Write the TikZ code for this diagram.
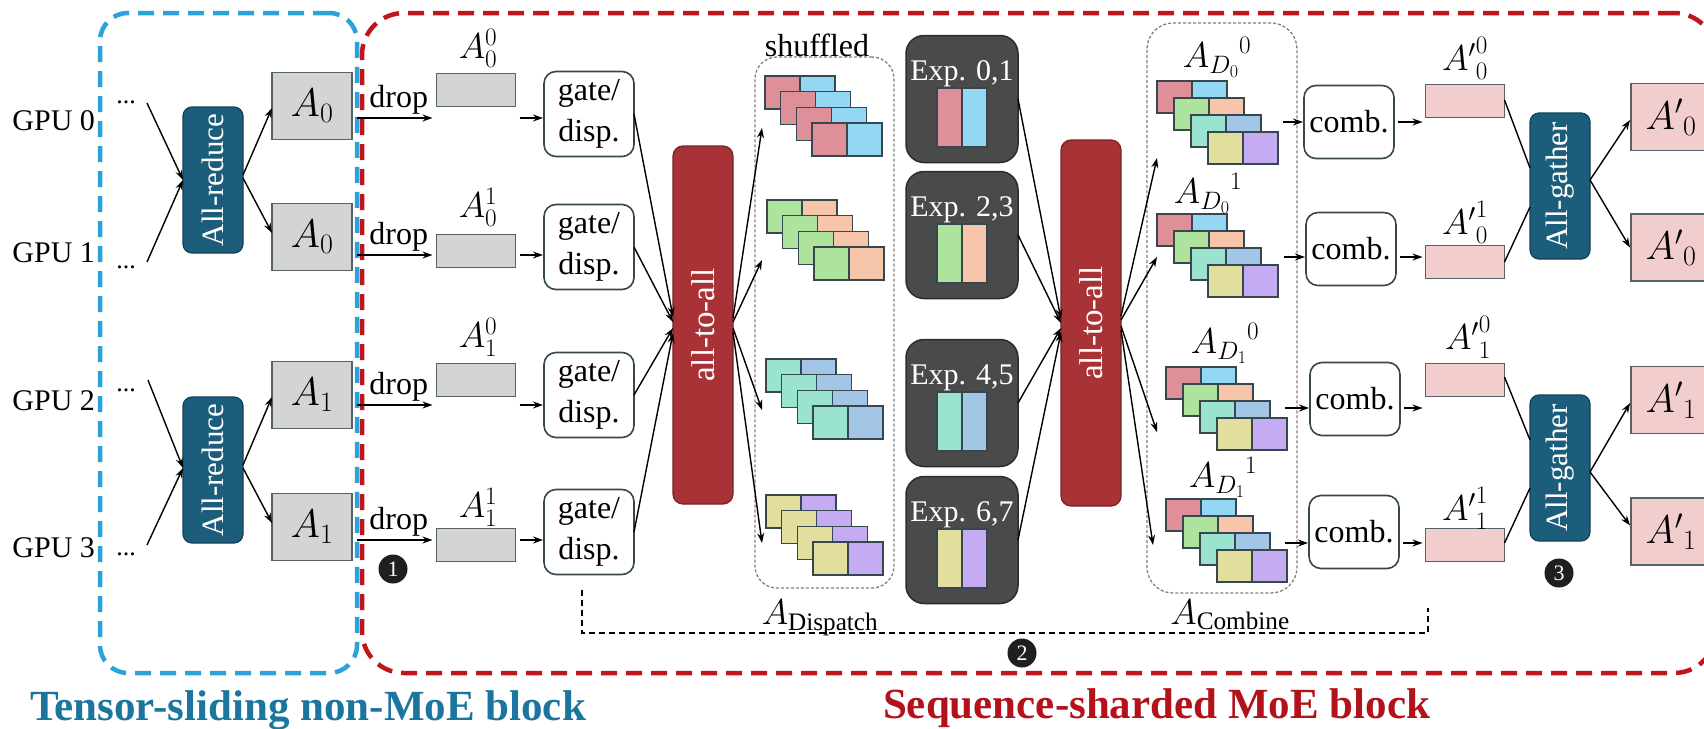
\RequirePackage{fix-cm}
\documentclass[tikz,border=0pt]{standalone}
\usepackage{fontspec}
\usepackage{graphicx}
\setmainfont{Liberation Serif}
\usetikzlibrary{calc,arrows.meta}

\definecolor{tsblue}{HTML}{2AA3DA}
\definecolor{smred}{HTML}{C0161B}
\definecolor{titleblue}{HTML}{1B769F}
\definecolor{titlered}{HTML}{B3121A}
\definecolor{collteal}{HTML}{1D5D7C}
\definecolor{a2ared}{HTML}{A83236}
\definecolor{expgray}{HTML}{4A4A4A}
\definecolor{edge}{HTML}{37474F}
\definecolor{actgray}{HTML}{D4D4D4}
\definecolor{outpink}{HTML}{F1CDCE}
\definecolor{cpink}{HTML}{DF8F98}
\definecolor{cblue}{HTML}{93D7F2}
\definecolor{cgreen}{HTML}{AEE39E}
\definecolor{cpeach}{HTML}{F7C5AA}
\definecolor{cmint}{HTML}{9AE3CF}
\definecolor{csky}{HTML}{A4C6E6}
\definecolor{cyellow}{HTML}{E2DF9E}
\definecolor{clav}{HTML}{C4ABF2}

\tikzset{
  every node/.style={font=\fontsize{32}{40}\selectfont, inner sep=0pt, outer sep=0pt},
  arr/.style={-{Stealth[length=10pt,width=7pt]}, line width=1.4pt, black},
  link/.style={line width=1.4pt, black},
  region/.style={line width=4.5pt, dash pattern=on 16pt off 9pt},
  holder/.style={draw=gray, dash pattern=on 3pt off 2pt, line width=1.3pt, rounded corners=22pt},
  actbox/.style={draw=edge!85, fill=actgray, line width=1.6pt, minimum width=80pt, minimum height=67pt,
                 font=\fontsize{40}{40}\selectfont},
  slimbox/.style={draw=edge!85, fill=actgray, line width=1.6pt, minimum width=79pt, minimum height=33pt},
  opbox/.style={draw=edge, fill=white, rounded corners=12pt, line width=1.6pt, minimum width=90pt, align=center},
  coll/.style={fill=collteal, draw=collteal!70!black, rounded corners=9pt, line width=1.2pt,
               minimum width=60pt, minimum height=146pt, text=white, font=\fontsize{31}{31}\selectfont},
  a2a/.style={fill=a2ared, draw=a2ared!70!black, rounded corners=10pt, line width=1.2pt,
              minimum width=60pt, text=white, font=\fontsize{33}{33}\selectfont},
  expbox/.style={fill=expgray, draw=expgray!60!black, rounded corners=18pt, line width=1.5pt,
                 minimum width=112pt, minimum height=127pt},
  exptext/.style={text=white, font=\fontsize{30}{30}\selectfont},
  cellbox/.style={draw=edge, line width=1.3pt},
  num/.style={circle, fill=black!88, text=white, minimum size=29pt, font=\fontsize{22}{22}\selectfont},
  gpu/.style={anchor=base east, font=\fontsize{30}{30}\selectfont},
  dots/.style={anchor=base, font=\fontsize{26}{26}\selectfont},
  title/.style={anchor=base west, font=\fontsize{43}{43}\selectfont\bfseries},
  mlabel/.style={font=\fontsize{36}{36}\selectfont},
}

% four shuffled token groups of one colour pair, stacked diagonally
\newcommand\dispstack[4]{%
  \foreach \k in {0,...,3}{%
    \path[cellbox,fill=#3] (#1+15.67*\k, #2+15.67*\k) rectangle ++(35,33);
    \path[cellbox,fill=#4] (#1+15.67*\k+35, #2+15.67*\k) rectangle ++(35,33);
  }}
% combined outputs: one layer per expert pair
\newcommand\combstack[2]{%
  \foreach \k/\ca/\cb in {0/cpink/cblue,1/cgreen/cpeach,2/cmint/csky,3/cyellow/clav}{%
    \path[cellbox,fill=\ca] (#1+17*\k, #2+17*\k) rectangle ++(35,32);
    \path[cellbox,fill=\cb] (#1+17*\k+35, #2+17*\k) rectangle ++(35,32);
  }}

\begin{document}
\begin{tikzpicture}[x=1pt,y=-1pt]
\clip (0,0) rectangle (1704,728);
\fill[white] (0,0) rectangle (1704,728);

% ---------- block frames ----------
\node[region, draw=tsblue, rounded corners=28pt, minimum width=257pt, minimum height=660pt] (tsb) at (228.5,343) {};
\node[region, draw=smred, rounded corners=42pt, minimum width=1354pt, minimum height=660pt] (smb) at (1039,343) {};
\node[title, text=titleblue] (t1) at (30,720) {Tensor-sliding non-MoE block};
\node[title, text=titlered] (t2) at (883,718) {Sequence-sharded MoE block};

% ---------- GPU rows ----------
\node[gpu] (gpu0) at (95,130) {GPU 0};
\node[gpu] (gpu1) at (95,262) {GPU 1};
\node[gpu] (gpu2) at (95,410) {GPU 2};
\node[gpu] (gpu3) at (95,557) {GPU 3};
\node[dots] (dt0) at (126,103) {...};
\node[dots] (dt1) at (126,268) {...};
\node[dots] (dt2) at (126,391) {...};
\node[dots] (dt3) at (126,555) {...};
\coordinate (in0) at (147,103);
\coordinate (in1) at (147,262);
\coordinate (in2) at (148,380);
\coordinate (in3) at (147,545);

% ---------- tensor-sliding part ----------
\node[coll] (ar0) at (213,180) {\rotatebox{90}{All-reduce}};
\node[coll] (ar1) at (213,470) {\rotatebox{90}{All-reduce}};
\node[actbox] (a0) at (312,106) {$A_0$};
\node[actbox] (a1) at (312,237) {$A_0$};
\node[actbox] (a2) at (312,395) {$A_1$};
\node[actbox] (a3) at (312,527) {$A_1$};

\draw[arr] (in0) -- (ar0.west);
\draw[arr] (in1) -- (ar0.west);
\draw[arr] (in2) -- ($(ar1.west)+(0,-2)$);
\draw[arr] (in3) -- ($(ar1.west)+(0,-2)$);
\draw[arr] ($(ar0.east)+(0,-5)$) -- ($(a0.west)+(0,2)$);
\draw[arr] ($(ar0.east)+(0,-2)$) -- ($(a1.west)+(0,-4)$);
\draw[arr] ($(ar1.east)+(0,-5)$) -- ($(a2.west)+(0,2)$);
\draw[arr] ($(ar1.east)+(0,-2)$) -- ($(a3.west)+(0,-4)$);

% rows of the dropped-token arrows
\coordinate (r0) at (0,118);
\coordinate (r1) at (0,255);
\coordinate (r2) at (0,405);
\coordinate (r3) at (0,540);

% ---------- dropped slices ----------
\node[slimbox] (s0) at (476,90) {};
\node[slimbox] (s1) at (476,251) {};
\node[slimbox] (s2) at (476,380) {};
\node[slimbox] (s3) at (476,545) {};
\node[mlabel] (ls0) at (478,48) {$A_0^0$};
\node[mlabel] (ls1) at (478,207) {$A_0^1$};
\node[mlabel] (ls2) at (478,337) {$A_1^0$};
\node[mlabel] (ls3) at (478,507) {$A_1^1$};

\foreach \i in {0,...,3}{
  \draw[arr] ($(a\i.east |- r\i)+(5,0)$) -- node[anchor=base, yshift=11pt, xshift=4pt] (dl\i) {drop} ($(s\i.west |- r\i)+(-4,0)$);
}

% ---------- gate / dispatch ----------
\node[opbox, minimum height=85pt, font=\fontsize{32}{41}\selectfont] (g0) at (589,114) {gate/\\disp.};
\node[opbox, minimum height=85pt, font=\fontsize{32}{41}\selectfont] (g1) at (589,247) {gate/\\disp.};
\node[opbox, minimum height=85pt, font=\fontsize{32}{41}\selectfont] (g2) at (589,395) {gate/\\disp.};
\node[opbox, minimum height=85pt, font=\fontsize{32}{41}\selectfont] (g3) at (589,532) {gate/\\disp.};
\foreach \i in {0,...,3}{
  \draw[arr] ($(s\i.east |- r\i)+(4,0)$) -- ($(g\i.west |- r\i)+(-1,0)$);
}

% ---------- first all-to-all ----------
\node[a2a, minimum height=358pt] (x0) at (703,325) {\rotatebox{90}{all-to-all}};
\draw[arr] (g0.east) -- ($(x0.west)+(0,-8)$);
\draw[arr] (g1.east) -- ($(x0.west)+(0,-3)$);
\draw[arr] (g2.east) -- ($(x0.west)+(0,3)$);
\draw[arr] (g3.east) -- ($(x0.west)+(0,8)$);

% ---------- dispatched (shuffled) tokens ----------
\node[holder, minimum width=139pt, minimum height=531pt] (disp) at (824.5,322.5) {};
\node (shuf) at (817,45) {shuffled};
\node[mlabel] (adisp) at (820,618) {$A_{\mathrm{Dispatch}}$};
\dispstack{765}{76}{cpink}{cblue}
\dispstack{767}{200}{cgreen}{cpeach}
\dispstack{766}{359}{cmint}{csky}
\dispstack{766}{495}{cyellow}{clav}
\coordinate (ds0) at (762,128);
\coordinate (ds1) at (762,260);
\coordinate (ds2) at (762,410);
\coordinate (ds3) at (762,543);
\draw[arr] ($(x0.east)+(0,-7)$) -- (ds0);
\draw[arr] ($(x0.east)+(0,-3)$) -- (ds1);
\draw[arr] ($(x0.east)+(0,3)$) -- (ds2);
\draw[arr] ($(x0.east)+(0,7)$) -- (ds3);

% ---------- experts ----------
\foreach \i/\y/\lab/\ca/\cb in {0/99/{0,1}/cpink/cblue, 1/235/{2,3}/cgreen/cpeach,
                                2/403/{4,5}/cmint/csky, 3/540/{6,7}/cyellow/clav}{
  \node[expbox] (e\i) at (962,\y) {};
  \path[cellbox, fill=\ca] ($(e\i)+(-25,-11)$) rectangle ($(e\i)+(0,48)$);
  \path[cellbox, fill=\cb] ($(e\i)+(0,-11)$) rectangle ($(e\i)+(25,48)$);
  \node[exptext] (et\i) at ($(e\i)+(0,-25)$) {Exp. \lab};
}

% ---------- second all-to-all ----------
\node[a2a, minimum height=366pt] (x1) at (1091,323) {\rotatebox{90}{all-to-all}};
\draw[arr] (e0.east) -- ($(x1.west)+(0,-4)$);
\draw[arr] (e1.east) -- ($(x1.west)+(0,0)$);
\draw[arr] (e2.east) -- ($(x1.west)+(0,5)$);
\draw[arr] (e3.east) -- ($(x1.west)+(0,9)$);

% ---------- combined tokens ----------
\node[holder, minimum width=150pt, minimum height=570pt, rounded corners=26pt] (comb) at (1222,308) {};
\node[mlabel] (acomb) at (1230,615) {$A_{\mathrm{Combine}}$};
\combstack{1157}{81}
\combstack{1157}{214}
\combstack{1166}{367}
\combstack{1166}{499}
\node[mlabel] (lc0) at (1217,57) {${A_{D_0}}^{0}$};
\node[mlabel] (lc1) at (1208,193) {${A_{D_0}}^{1}$};
\node[mlabel] (lc2) at (1225,343) {${A_{D_1}}^{0}$};
\node[mlabel] (lc3) at (1223,477) {${A_{D_1}}^{1}$};
\coordinate (cs0) at (1157,158);
\coordinate (cs1) at (1157,257);
\coordinate (cs2) at (1157,432);
\coordinate (cs3) at (1153,545);
\draw[arr] ($(x1.east)+(0,-7)$) -- (cs0);
\draw[arr] ($(x1.east)+(0,-3)$) -- (cs1);
\draw[arr] ($(x1.east)+(0,3)$) -- (cs2);
\draw[arr] ($(x1.east)+(0,7)$) -- (cs3);

% rows of the combine arrows
\coordinate (q0) at (0,122);
\coordinate (q1) at (0,257);
\coordinate (q2) at (0,408);
\coordinate (q3) at (0,543);
\coordinate (co0) at (1283,122);
\coordinate (co1) at (1284,257);
\coordinate (co2) at (1285,408);
\coordinate (co3) at (1285,543);

% ---------- combine ops and outputs ----------
\node[opbox, minimum height=73pt] (c0) at (1349,122) {comb.};
\node[opbox, minimum height=73pt] (c1) at (1351,249) {comb.};
\node[opbox, minimum height=73pt] (c2) at (1355,399) {comb.};
\node[opbox, minimum height=73pt] (c3) at (1354,532) {comb.};
\node[slimbox, fill=outpink] (p0) at (1465,101) {};
\node[slimbox, fill=outpink] (p1) at (1465,262) {};
\node[slimbox, fill=outpink] (p2) at (1465,380) {};
\node[slimbox, fill=outpink] (p3) at (1465,545) {};
\node[mlabel] (lp0) at (1465,58) {${A'}_0^0$};
\node[mlabel] (lp1) at (1465,222) {${A'}_0^1$};
\node[mlabel] (lp2) at (1468,337) {${A'}_1^0$};
\node[mlabel] (lp3) at (1465,508) {${A'}_1^1$};
\foreach \i in {0,...,3}{
  \draw[arr] (co\i) -- ($(c\i.west |- q\i)+(-1,0)$);
  \draw[arr] ($(c\i.east |- q\i)+(4,0)$) -- ($(p\i.west |- q\i)+(-3,0)$);
}

% ---------- all-gather ----------
\node[coll] (ag0) at (1560,186) {\rotatebox{90}{All-gather}};
\node[coll] (ag1) at (1560,468) {\rotatebox{90}{All-gather}};
\draw[link] ($(p0.east)+(0,-1)$) -- ($(ag0.west)+(0,-18)$);
\draw[link] (p1.east) -- ($(ag0.west)+(0,21)$);
\draw[link] ($(p2.east)+(0,-3)$) -- ($(ag1.west)+(0,-28)$);
\draw[link] ($(p3.east)+(0,-2)$) -- ($(ag1.west)+(0,20)$);

\node[actbox, fill=outpink] (b0) at (1671,117) {${A'}_0$};
\node[actbox, fill=outpink] (b1) at (1671,247.5) {${A'}_0$};
\node[actbox, fill=outpink] (b2) at (1671,400) {${A'}_1$};
\node[actbox, fill=outpink] (b3) at (1671,531.5) {${A'}_1$};
\draw[arr] ($(ag0.east)+(0,-6)$) -- ($(b0.west)+(-1,3)$);
\draw[arr] ($(ag0.east)+(0,-6)$) -- ($(b1.west)+(-1,0)$);
\draw[arr] ($(ag1.east)+(0,4)$) -- ($(b2.west)+(-1,3)$);
\draw[arr] ($(ag1.east)+(0,4)$) -- ($(b3.west)+(-1,-6)$);

% ---------- sequence-sharded span bracket ----------
\coordinate (bk0) at (582,590);
\coordinate (bk1) at (1428,608);
\draw[line width=1.4pt, dash pattern=on 6pt off 4pt] (bk0) -- (bk0 |- 0,633) -- (bk1 |- 0,633) -- (bk1);

% ---------- step markers ----------
\node[num] (n1) at (393,569) {1};
\node[num] (n2) at (1022,653) {2};
\node[num] (n3) at (1559,573) {3};
\end{tikzpicture}
\end{document}
